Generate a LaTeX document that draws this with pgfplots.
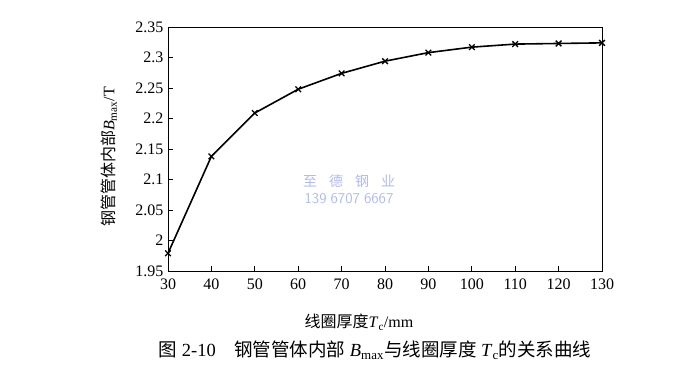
\documentclass[border=0pt]{standalone}
\usepackage{fontspec}
\setmainfont{Liberation Serif}
\newfontfamily\cjk{Noto Sans CJK SC}
\usepackage{pgfplots}
\pgfplotsset{compat=1.18}
\definecolor{wm}{RGB}{176,186,240}
\begin{document}
\begin{tikzpicture}[x=1pt,y=1pt]
\useasboundingbox (0pt,0pt) rectangle (700pt,384pt);
\begin{axis}[at={(168pt,113pt)}, anchor=south west, scale only axis,
  width=434pt, height=244pt,
  xmin=30, xmax=130, ymin=1.95, ymax=2.35,
  xtick={30,40,...,130},
  ytick={1.95,2,2.05,2.1,2.15,2.2,2.25,2.3,2.35},
  xtick pos=bottom, ytick pos=left, tick align=inside,
  major tick length=5pt,
  axis line style={line width=0.8pt},
  tick style={line width=0.8pt, black},
  /pgf/number format/assume math mode=true,
  ticklabel style={font=\fontsize{16}{16}\selectfont},
  xticklabel style={yshift=-4pt},
  yticklabel style={xshift=-1pt},
]
\addplot[black, line width=1.6pt, mark=x, mark size=4pt, mark options={line width=1.3pt}]
coordinates {(30,1.979) (40,2.138) (50,2.209) (60,2.248) (70,2.274) (80,2.294) (90,2.308) (100,2.317) (110,2.322) (120,2.323) (130,2.324)};
\end{axis}
\node[rotate=90, font=\fontsize{16}{16}\selectfont] at (109pt,227pt) {{\cjk 钢管管体内部}\textit{B}\textsubscript{max}/T};
\node[font=\fontsize{16}{16}\selectfont] at (359pt,62pt) {{\cjk 线圈厚度}\textit{T}\textsubscript{c}/mm};
\node[font=\fontsize{18.5}{18.5}\selectfont] at (375pt,34pt) {{\cjk 图} 2-10\quad{\cjk 钢管管体内部} \textit{B}\textsubscript{max}{\cjk 与线圈厚度} \textit{T}\textsubscript{c}{\cjk 的关系曲线}};
\node[font=\fontsize{14}{14}\selectfont\cjk, text=wm] at (349pt,203pt) {至\hspace{12pt}德\hspace{12pt}钢\hspace{12pt}业};
\node[font=\fontsize{15}{15}\selectfont\sffamily, text=wm] at (349pt,185pt) {139\hspace{4pt}6707\hspace{4pt}6667};
\end{tikzpicture}
\end{document}
